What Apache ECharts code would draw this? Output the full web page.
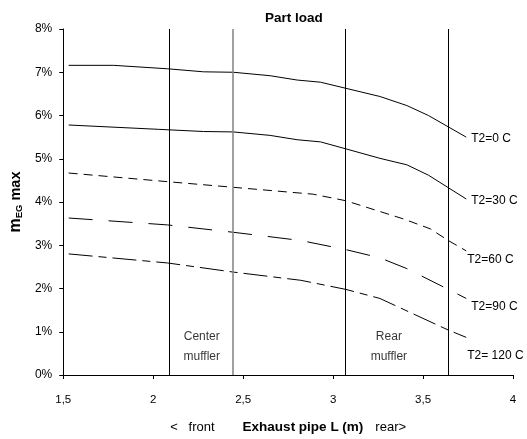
<!DOCTYPE html>
<html><head><meta charset="utf-8">
<script src="https://cdn.jsdelivr.net/npm/echarts@6/dist/echarts.min.js"></script>
<style>html,body{margin:0;padding:0;background:#fff}#c{width:527px;height:439px}</style>
</head><body><div id="c"></div>
<script>
const seriesNames = ['T2=0 C', 'T2=30 C', 'T2=60 C', 'T2=90 C', 'T2= 120 C'];
const x0 = [1.53, 1.78, 2.08, 2.28, 2.445, 2.65, 2.80, 2.93, 3.07, 3.26, 3.41, 3.53, 3.74];
const y0 = [7.16, 7.16, 7.08, 7.01, 7.00, 6.92, 6.82, 6.77, 6.63, 6.44, 6.23, 6.00, 5.50];
const x30 = [1.53, 2.03, 2.28, 2.445, 2.65, 2.80, 2.93, 3.07, 3.26, 3.41, 3.53, 3.74];
const y30 = [5.78, 5.68, 5.63, 5.62, 5.54, 5.44, 5.39, 5.23, 5.01, 4.86, 4.62, 4.07];
const x60 = [1.53, 2.08, 2.445, 2.89, 3.07, 3.39, 3.54, 3.64, 3.74];
const y60 = [4.67, 4.47, 4.34, 4.18, 4.03, 3.61, 3.38, 3.11, 2.87];
const x90 = [1.53, 2.08, 2.445, 2.82, 3.07, 3.26, 3.41, 3.64, 3.74];
const y90 = [3.63, 3.47, 3.30, 3.11, 2.90, 2.71, 2.46, 1.98, 1.77];
const x120 = [1.53, 2.08, 2.445, 2.82, 3.07, 3.26, 3.64, 3.74];
const y120 = [2.80, 2.59, 2.38, 2.19, 1.98, 1.77, 1.04, 0.87];
const mufflerLines = [2.09, 2.445, 3.07, 3.64];
const xTicks = {min: 1.5, max: 4, interval: 0.5};
const yTicks = {min: 0, max: 8, interval: 1};
const annotations = [[2.27, 0.66, 'Center\nmuffler'], [3.31, 0.66, 'Rear\nmuffler']];

const FONT = '"Liberation Sans", Arial, sans-serif';
const dashes = ['solid', 'solid', [9, 6], [24, 16], [24, 6, 8, 6]];
const labelOffsets = [[0, 2], [0, 2], [-4, 9], [0, 8], [-4, 18]];
const pairs = [[x0, y0], [x30, y30], [x60, y60], [x90, y90], [x120, y120]];

const series = pairs.map((p, i) => ({
  name: seriesNames[i],
  type: 'line',
  data: p[0].map((x, j) => [x, p[1][j]]),
  showSymbol: false,
  symbol: 'none',
  smooth: false,
  silent: true,
  lineStyle: {color: '#000', width: 1, type: dashes[i]},
  endLabel: {show: true, formatter: seriesNames[i], color: '#000', fontSize: 12, fontFamily: FONT, offset: labelOffsets[i], distance: 5},
  z: 3
}));
series[0].markLine = {
  silent: true, symbol: 'none', animation: false,
  label: {show: false},
  lineStyle: {color: '#000', width: 1, type: 'solid'},
  data: mufflerLines.map((v, i) => ({xAxis: v, lineStyle: {color: i === 1 ? '#808080' : '#000', width: i === 1 ? 1.5 : 1, type: 'solid'}}))
};
series.push({
  type: 'scatter', silent: true, symbolSize: 0,
  data: annotations.map(a => ({value: [a[0], a[1]], label: {formatter: a[2]}})),
  label: {show: true, position: 'inside', color: '#000', fontSize: 12, fontFamily: FONT, lineHeight: 20, align: 'center', verticalAlign: 'middle'}
});

const chart = echarts.init(document.getElementById('c'), null, {renderer: 'canvas'});
chart.setOption({
  animation: false,
  backgroundColor: '#fff',
  title: {text: 'Part load', left: 260, top: 6, textStyle: {fontFamily: FONT, fontSize: 13.5, fontWeight: 'bold', color: '#000'}},
  grid: {left: 62, right: 14, top: 29, bottom: 62},
  xAxis: {
    type: 'value', min: xTicks.min, max: xTicks.max, interval: xTicks.interval,
    axisLine: {lineStyle: {color: '#000', width: 1}},
    axisTick: {show: true, length: 4, lineStyle: {color: '#000'}},
    splitLine: {show: false},
    axisLabel: {color: '#000', fontSize: 11.5, fontFamily: FONT, margin: 19, formatter: v => String(v).replace('.', ',')},
    name: '{n|<   front}{s|}{b|Exhaust pipe L (m)}{t|}{n|rear>}',
    nameLocation: 'middle', nameGap: 45,
    nameTextStyle: {
      rich: {
        n: {fontFamily: FONT, fontSize: 13, color: '#000'},
        b: {fontFamily: FONT, fontSize: 13.5, fontWeight: 'bold', color: '#000'},
        s: {width: 28}, t: {width: 12}
      }
    }
  },
  yAxis: {
    type: 'value', min: yTicks.min, max: yTicks.max, interval: yTicks.interval,
    axisLine: {show: true, lineStyle: {color: '#000', width: 1}},
    axisTick: {show: true, length: 4, lineStyle: {color: '#000'}},
    splitLine: {show: false},
    axisLabel: {color: '#000', fontSize: 12, fontFamily: FONT, margin: 11, formatter: v => v + '%'},
    name: '{a|m}{e|EG}{c| max}',
    nameLocation: 'middle', nameGap: 37,
    nameTextStyle: {
      rich: {
        a: {fontFamily: FONT, fontSize: 16, fontWeight: 'bold', color: '#000'},
        c: {fontFamily: FONT, fontSize: 14.5, fontWeight: 'bold', color: '#000'},
        e: {fontFamily: FONT, fontSize: 9.5, fontWeight: 'bold', color: '#000', verticalAlign: 'bottom'}
      }
    }
  },
  series: series
});
</script></body></html>
